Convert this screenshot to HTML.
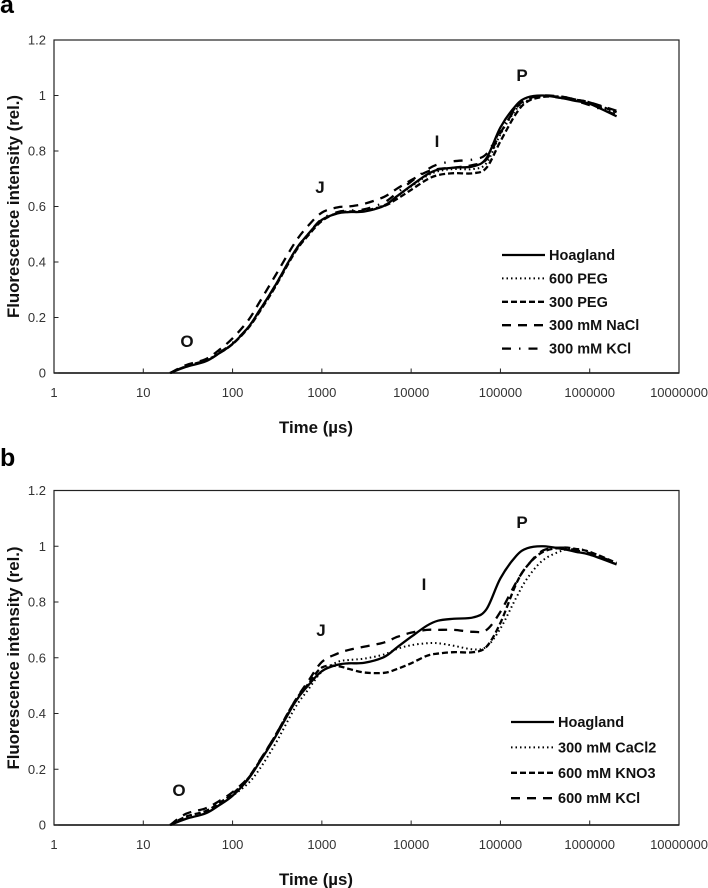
<!DOCTYPE html>
<html>
<head>
<meta charset="utf-8">
<title>Fluorescence intensity charts</title>
<style>
html,body{margin:0;padding:0;background:#fff;}
svg{display:block;font-family:"Liberation Sans",sans-serif;filter:blur(0.3px);}
.tick{font-size:13px;fill:#333;}
.title{font-size:16.5px;font-weight:bold;fill:#111;}
.legend{font-size:14.5px;font-weight:bold;fill:#111;}
.peak{font-size:17px;font-weight:bold;fill:#111;}
.panel{font-size:25px;font-weight:bold;fill:#000;}
</style>
</head>
<body>
<svg id="chart" width="708" height="888" viewBox="0 0 708 888" xmlns="http://www.w3.org/2000/svg"></svg>
<script>
var xTickLabels = ["1","10","100","1000","10000","100000","1000000","10000000"];
var xTickValues = [1,10,100,1000,10000,100000,1000000,10000000];
var yTickValues = [0,0.2,0.4,0.6,0.8,1,1.2];
var yTickLabels = ["0","0.2","0.4","0.6","0.8","1","1.2"];
var times = [20,30,50,70,100,150,200,300,500,700,1000,1500,2000,3000,5000,7000,10000,15000,20000,30000,50000,70000,100000,150000,200000,300000,500000,700000,1000000,2000000];

var hoagland = [0,0.022,0.042,0.07,0.105,0.165,0.225,0.315,0.44,0.5,0.552,0.575,0.58,0.582,0.603,0.638,0.675,0.715,0.733,0.74,0.745,0.775,0.885,0.965,0.993,1,0.99,0.98,0.97,0.925];
var peg600 = [0,0.024,0.044,0.072,0.105,0.163,0.222,0.31,0.435,0.495,0.548,0.578,0.582,0.585,0.605,0.638,0.672,0.71,0.727,0.735,0.735,0.757,0.86,0.95,0.982,0.998,0.995,0.985,0.97,0.935];
var peg300 = [0,0.024,0.043,0.07,0.104,0.162,0.22,0.31,0.435,0.495,0.548,0.577,0.582,0.585,0.602,0.628,0.66,0.697,0.713,0.72,0.72,0.74,0.835,0.935,0.978,0.995,0.995,0.985,0.975,0.94];
var nacl300 = [0,0.028,0.05,0.082,0.125,0.19,0.255,0.35,0.47,0.53,0.578,0.597,0.6,0.61,0.635,0.665,0.695,0.725,0.735,0.74,0.75,0.77,0.865,0.955,0.988,1,0.995,0.985,0.975,0.945];
var kcl300 = [0,0.025,0.045,0.072,0.108,0.165,0.225,0.315,0.44,0.5,0.555,0.58,0.585,0.59,0.615,0.65,0.69,0.732,0.752,0.763,0.77,0.79,0.875,0.96,0.988,0.998,0.99,0.98,0.965,0.93];

var hoaglandB = [0,0.022,0.042,0.07,0.105,0.165,0.225,0.315,0.44,0.5,0.552,0.575,0.58,0.582,0.603,0.638,0.675,0.715,0.733,0.74,0.745,0.775,0.885,0.965,0.993,1,0.99,0.98,0.97,0.935];
var cacl300 = [0,0.028,0.05,0.075,0.105,0.15,0.2,0.29,0.42,0.485,0.55,0.585,0.592,0.597,0.612,0.632,0.645,0.652,0.652,0.643,0.63,0.64,0.705,0.815,0.885,0.95,0.985,0.99,0.98,0.935];
var kno600 = [0,0.03,0.05,0.078,0.112,0.168,0.228,0.32,0.445,0.505,0.565,0.57,0.56,0.547,0.546,0.56,0.58,0.607,0.615,0.62,0.62,0.64,0.725,0.865,0.93,0.98,0.995,0.99,0.98,0.94];
var kcl600 = [0,0.04,0.06,0.085,0.118,0.17,0.23,0.32,0.445,0.515,0.585,0.615,0.628,0.64,0.655,0.675,0.69,0.7,0.7,0.7,0.693,0.7,0.765,0.87,0.93,0.985,0.995,0.985,0.975,0.94];

var SVG_NS = "http://www.w3.org/2000/svg";
var svg = document.getElementById("chart");

var styleSolid = {width:2.3, dash:""};
var styleDot = {width:2, dash:"1.5 3"};
var styleShortDash = {width:2.3, dash:"6 3"};
var styleLongDash = {width:2.3, dash:"9 7"};
var styleDashDot = {width:2.3, dash:"9 8 1.5 8"};

function node(tag, attrs, text) {
  var el = document.createElementNS(SVG_NS, tag);
  for (var k in attrs) el.setAttribute(k, attrs[k]);
  if (text !== undefined) el.textContent = text;
  svg.appendChild(el);
  return el;
}

function makeX() {
  var left = 54, right = 679;
  return function (v) { return left + (Math.log10(v) / 7) * (right - left); };
}
function makeY(top, bottom) {
  return function (v) { return bottom - (v / 1.2) * (bottom - top); };
}

function smoothPath(xs, ys) {
  var d = "M" + xs[0].toFixed(2) + " " + ys[0].toFixed(2);
  for (var i = 0; i < xs.length - 1; i++) {
    var p0 = Math.max(i - 1, 0), p3 = Math.min(i + 2, xs.length - 1);
    var c1x = xs[i] + (xs[i + 1] - xs[p0]) / 6;
    var c1y = ys[i] + (ys[i + 1] - ys[p0]) / 6;
    var c2x = xs[i + 1] - (xs[p3] - xs[i]) / 6;
    var c2y = ys[i + 1] - (ys[p3] - ys[i]) / 6;
    d += "C" + c1x.toFixed(2) + " " + c1y.toFixed(2) + " " + c2x.toFixed(2) + " " + c2y.toFixed(2) + " " + xs[i + 1].toFixed(2) + " " + ys[i + 1].toFixed(2);
  }
  return d;
}

function drawPanel(cfg) {
  var x = makeX();
  var y = makeY(cfg.top, cfg.bottom);
  var left = x(1), right = x(10000000);

  var frame = node("rect", {x:left, y:cfg.top, width:right - left, height:cfg.bottom - cfg.top, fill:"none", stroke:"#222", "stroke-width":1.2});
  
  

  var axis = node("line", {x1:left, x2:right, y1:cfg.bottom, y2:cfg.bottom, stroke:"#111", "stroke-width":1.6});
  
  

  yTickValues.forEach(function (v, i) {
    var t = node("line", {x1:left, x2:left + 4.5, y1:y(v), y2:y(v), stroke:"#222", "stroke-width":1});
    
    
    var l = node("text", {x:left - 8, y:y(v) + 4.5, "text-anchor":"end", "class":"tick"}, yTickLabels[i]);
    
    
  });
  xTickValues.forEach(function (v, i) {
    var t = node("line", {x1:x(v), x2:x(v), y1:cfg.bottom, y2:cfg.bottom - 4.5, stroke:"#222", "stroke-width":1});
    
    
    var l = node("text", {x:x(v), y:cfg.bottom + 24, "text-anchor":"middle", "class":"tick"}, xTickLabels[i]);
    
    
  });

  var xs = times.map(x);
  cfg.series.forEach(function (s) {
    var ys = s.values.map(y);
    var p = node("path", {d:smoothPath(xs, ys), fill:"none", stroke:"#000", "stroke-width":s.style.width, "stroke-dasharray":s.style.dash, "stroke-linecap":"butt"});
    
    
  });

  var xt = node("text", {x:316, y:cfg.bottom + 60, "text-anchor":"middle", "class":"title", textLength:74, lengthAdjust:"spacingAndGlyphs"}, "Time (µs)");
  
  

  var yt = node("text", {x:0, y:0, transform:"translate(19 " + cfg.yTitleCenter + ") rotate(-90)", "text-anchor":"middle", "class":"title", textLength:223, lengthAdjust:"spacingAndGlyphs"}, "Fluorescence intensity (rel.)");
  
  

  var pl = node("text", {x:0, y:cfg.panelY, "class":"panel"}, cfg.panel);
  
  

  cfg.peaks.forEach(function (pk) {
    var e = node("text", {x:pk.x, y:pk.y, "text-anchor":"middle", "class":"peak"}, pk.t);
    
    
  });

  cfg.series.forEach(function (s, i) {
    var ly = cfg.legendY + i * cfg.legendStep;
    var k = node("line", {x1:cfg.legendX, x2:cfg.legendX + 43, y1:ly, y2:ly, stroke:"#000", "stroke-width":s.style.width, "stroke-dasharray":s.style.dash});
    
    
    var lt = node("text", {x:cfg.legendX + 47, y:ly + 5, "class":"legend"}, s.name);
    
    
  });
}

drawPanel({
  id:"panel-a", panel:"a", panelY:13, top:40, bottom:373, yTitleCenter:206.5, legendX:502, legendY:255, legendStep:23.4,
  peaks:[{t:"O",x:187,y:347},{t:"J",x:320,y:193},{t:"I",x:437,y:147},{t:"P",x:522,y:81}],
  series:[
    {name:"Hoagland", values:hoagland, style:styleSolid},
    {name:"600 PEG", values:peg600, style:styleDot},
    {name:"300 PEG", values:peg300, style:styleShortDash},
    {name:"300 mM NaCl", values:nacl300, style:styleLongDash},
    {name:"300 mM KCl", values:kcl300, style:styleDashDot}
  ]
});
drawPanel({
  id:"panel-b", panel:"b", panelY:466, top:490.5, bottom:825, yTitleCenter:658, legendX:511, legendY:722, legendStep:25.4,
  peaks:[{t:"O",x:179,y:796},{t:"J",x:321,y:636},{t:"I",x:424,y:590},{t:"P",x:522,y:528}],
  series:[
    {name:"Hoagland", values:hoaglandB, style:styleSolid},
    {name:"300 mM CaCl2", values:cacl300, style:styleDot},
    {name:"600 mM KNO3", values:kno600, style:styleShortDash},
    {name:"600 mM KCl", values:kcl600, style:styleLongDash}
  ]
});
</script>
</body>
</html>
